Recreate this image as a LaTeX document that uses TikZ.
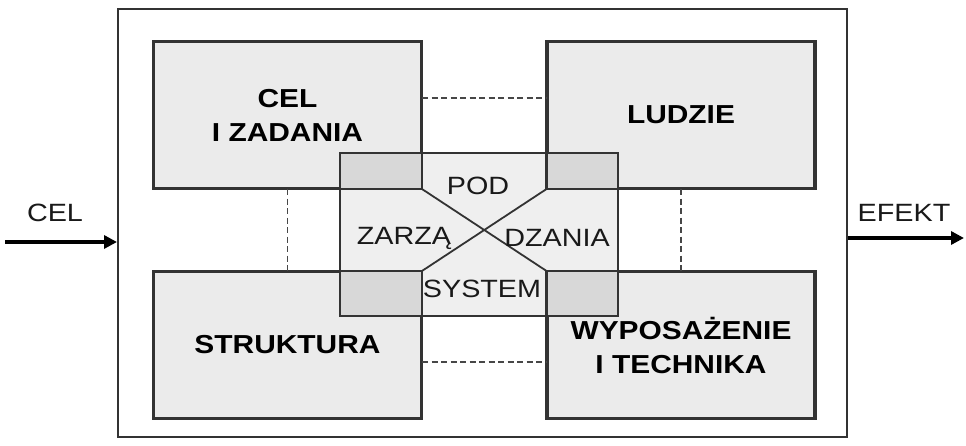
\documentclass[tikz,border=0pt]{standalone}
\usepackage{fontspec}
\setmainfont[FakeStretch=1.15]{Liberation Sans}
\usetikzlibrary{arrows.meta}
\definecolor{boxfill}{HTML}{EBEBEB}
\definecolor{ovfill}{HTML}{D8D8D8}
\definecolor{cfill}{HTML}{EFEFEF}
\definecolor{edge}{HTML}{333333}
\tikzset{
  box/.style={draw=edge, line width=2.2pt, fill=boxfill, minimum width=267pt, minimum height=146pt, inner sep=0pt, align=center, font=\fontsize{26}{34}\selectfont\bfseries},
  outline/.style={draw=edge, line width=2.2pt},
  lbl/.style={inner sep=0pt, font=\fontsize{25}{30}\selectfont, text=black!90},
  dashlink/.style={draw=edge!90, line width=1.8pt, dash pattern=on 6pt off 3.5pt},
  flow/.style={line width=3.6pt, -{Triangle[length=13pt,width=13pt]}}
}
\begin{document}
\begin{tikzpicture}[x=1pt,y=-1pt]
\useasboundingbox[fill=white] (0,0) rectangle (966,446);
% outer frame
\node[draw=edge, line width=2pt, fill=white, minimum width=729pt, minimum height=428pt, inner sep=0pt] (frame) at (482.5,223) {};
% centre box fill
\node[fill=cfill, minimum width=278pt, minimum height=163pt, inner sep=0pt] (core) at (479,234.5) {};
% corner boxes
\node[box] (cel) at (287.5,115) {CEL\\I ZADANIA};
\node[box] (ludzie) at (681,115) {LUDZIE};
\node[box] (struk) at (287.5,345) {STRUKTURA};
\node[box] (wypos) at (681,345) {WYPOSAŻENIE\\I TECHNIKA};
% overlaps
\fill[ovfill] (core.north west) rectangle (cel.south east);
\fill[ovfill] (core.north east) rectangle (ludzie.south west);
\fill[ovfill] (core.south west) rectangle (struk.north east);
\fill[ovfill] (core.south east) rectangle (wypos.north west);
% borders again on top
\draw[outline] (cel.north west) rectangle (cel.south east);
\draw[outline] (ludzie.north west) rectangle (ludzie.south east);
\draw[outline] (struk.north west) rectangle (struk.south east);
\draw[outline] (wypos.north west) rectangle (wypos.south east);
\draw[outline] (core.north west) rectangle (core.south east);
% cross
\draw[outline, line width=1.8pt] (cel.south east) -- (wypos.north west);
\draw[outline, line width=1.8pt] (ludzie.south west) -- (struk.north east);
% dashed links
\draw[dashlink] (cel.east |- 0,98) -- (ludzie.west |- 0,98);
\draw[dashlink] (struk.east |- 0,362) -- (wypos.west |- 0,362);
\draw[dashlink] (cel.south) -- (struk.north);
\draw[dashlink] (ludzie.south) -- (wypos.north);
% centre labels
\node[lbl] (pod) at (478,186) {POD};
\node[lbl] (zarza) at (404,238) {ZARZĄ};
\node[lbl] (dzania) at (557,238) {DZANIA};
\node[lbl] (system) at (482,289) {SYSTEM};
% input / output
\coordinate (inS) at (5,242);
\draw[flow] (inS) -- (frame.west |- inS);
\node[lbl] (cellbl) at (55,213) {CEL};
\coordinate (outE) at (964,238);
\draw[flow] (frame.east |- outE) -- (outE);
\node[lbl] (efekt) at (904,213) {EFEKT};
\end{tikzpicture}
\end{document}
